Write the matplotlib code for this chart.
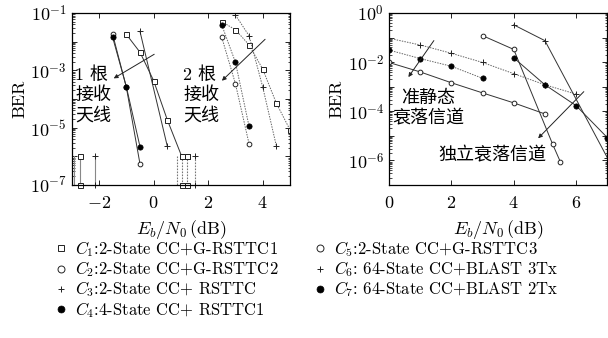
import matplotlib
matplotlib.use('Agg')
import matplotlib.pyplot as plt
from matplotlib.lines import Line2D
from matplotlib.ticker import LogLocator, NullFormatter
import numpy as np

plt.rcParams['font.family'] = ['cmr10', 'Noto Sans CJK SC']
plt.rcParams['mathtext.fontset'] = 'cm'
plt.rcParams['axes.formatter.use_mathtext'] = True
plt.rcParams['axes.unicode_minus'] = True

# ---- left panel: 1 / 2 receive antennas ----
c1_1rx_x = [-1, -0.5, 0, 0.5, 1.03, 1.21]
c1_1rx_y = [1.8e-2, 4.3e-3, 4.4e-4, 1.9e-5, 1e-6, 1e-6]
c2_1rx_x = [-1.5, -1, -0.5]
c2_1rx_y = [1.8e-2, 2.6e-4, 5.5e-7]
c3_1rx_x = [-0.5, 0.5]
c3_1rx_y = [2.3e-2, 2.3e-6]
c4_1rx_x = [-1.5, -1, -0.5]
c4_1rx_y = [1.4e-2, 2.7e-4, 2.2e-6]

c1_2rx_x = [2.5, 3, 3.5, 4, 4.5, 5]
c1_2rx_y = [5e-2, 2.6e-2, 7.7e-3, 1.1e-3, 7.1e-5, 8.4e-6]
c2_2rx_x = [2.5, 3, 3.5]
c2_2rx_y = [1.4e-2, 3.4e-4, 2.7e-6]
c3_2rx_x = [3, 3.5, 4, 4.5]
c3_2rx_y = [8.5e-2, 1.6e-2, 2.6e-4, 2.3e-6]
c4_2rx_x = [2.5, 3, 3.5]
c4_2rx_y = [3.8e-2, 1.9e-3, 1.1e-5]

# points where BER dropped to zero (drawn as drops to the floor)
drop_solid_x = [-2.93, -2.68, -2.15]
drop_solid_m = ['', 's', '+']
drop_dot_x = [0.87, 1.03, 1.21, 1.5]
drop_dot_m = ['', 's', 's', '+']
drop_top = 1e-6

# ---- right panel: quasi-static / independent fading ----
c5_qs_x = [0, 1, 2, 3, 4, 5]
c5_qs_y = [9.7e-3, 4e-3, 1.45e-3, 5.6e-4, 2.2e-4, 7.8e-5]
c6_qs_x = [0, 1, 2, 3, 4, 5, 6]
c6_qs_y = [9.4e-2, 5e-2, 2.3e-2, 9.7e-3, 3.4e-3, 1.2e-3, 5e-4]
c7_qs_x = [0, 1, 2, 3]
c7_qs_y = [3.1e-2, 1.4e-2, 6.8e-3, 2.2e-3]

c5_if_x = [3, 4, 5.25, 5.5]
c5_if_y = [1.2e-1, 3.3e-2, 4.5e-6, 8.5e-7]
c6_if_x = [4, 5, 7]
c6_if_y = [3.3e-1, 7.5e-2, 1.3e-6]
c7_if_x = [4, 5, 6, 7]
c7_if_y = [1.5e-2, 1.2e-3, 1.7e-4, 8.5e-6]

legend_labels = [r'$C_1$:2-State CC+G-RSTTC1',
                 r'$C_2$:2-State CC+G-RSTTC2',
                 r'$C_3$:2-State CC+ RSTTC',
                 r'$C_4$:4-State CC+ RSTTC1',
                 r'$C_5$:2-State CC+G-RSTTC3',
                 r'$C_6$: 64-State CC+BLAST 3Tx',
                 r'$C_7$: 64-State CC+BLAST 2Tx']

SOLID = '#333333'
DOTC = '#666666'
mk = {'s': dict(marker='s', ms=3.6, mfc='white', mec='#222222', mew=0.7),
      'o': dict(marker='o', ms=3.4, mfc='white', mec='#222222', mew=0.7),
      '+': dict(marker='+', ms=4.5, mec='#222222', mew=0.7),
      'f': dict(marker='o', ms=3.8, mfc='black', mec='black', mew=0.5)}

fig = plt.figure(figsize=(6.08, 3.38), dpi=100)
ax1 = fig.add_axes([0.118, 0.4527, 0.359, 0.5088])
ax2 = fig.add_axes([0.6398, 0.4527, 0.359, 0.5088])

def line(ax, x, y, m, ls='-', c=SOLID):
    ax.plot(x, y, ls=ls, color=c, lw=0.7, **mk[m])

DOT = (0, (1.5, 1.2))
line(ax1, c1_1rx_x, c1_1rx_y, 's')
line(ax1, c2_1rx_x, c2_1rx_y, 'o')
line(ax1, c3_1rx_x, c3_1rx_y, '+')
line(ax1, c4_1rx_x, c4_1rx_y, 'f')
line(ax1, c1_2rx_x, c1_2rx_y, 's', DOT, DOTC)
line(ax1, c2_2rx_x, c2_2rx_y, 'o', DOT, DOTC)
line(ax1, c3_2rx_x, c3_2rx_y, '+', DOT, DOTC)
line(ax1, c4_2rx_x, c4_2rx_y, 'f', DOT, DOTC)

for x, m in zip(drop_solid_x, drop_solid_m):
    ax1.plot([x, x], [drop_top, 1e-7], color='#888888', lw=0.8, clip_on=False,
             **(mk[m] if m else {}))
for x, m in zip(drop_dot_x, drop_dot_m):
    ax1.plot([x, x], [drop_top, 1e-7], color='#777777', lw=0.8, ls=DOT, clip_on=False,
             **(mk[m] if m else {}))

line(ax2, c5_qs_x, c5_qs_y, 'o')
line(ax2, c6_qs_x, c6_qs_y, '+', DOT, DOTC)
line(ax2, c7_qs_x, c7_qs_y, 'f', DOT, DOTC)
line(ax2, c5_if_x, c5_if_y, 'o')
line(ax2, c6_if_x, c6_if_y, '+')
line(ax2, c7_if_x, c7_if_y, 'f')

arrow = dict(arrowstyle='-|>', color='#222222', lw=0.7, mutation_scale=6)
ax1.annotate('', xy=(-1.55, 10**-3.33), xytext=(0.11, 10**-2.39), arrowprops=arrow)
ax1.annotate('', xy=(2.43, 10**-3.43), xytext=(4.16, 10**-1.85), arrowprops=arrow)
ax2.annotate('', xy=(0.57, 10**-2.7), xytext=(1.49, 10**-1.03), arrowprops=arrow)
ax2.annotate('', xy=(4.72, 10**-5.18), xytext=(6.31, 10**-3.12), arrowprops=arrow)

cjk = ['cmr10', 'Noto Sans CJK SC']
ax1.text(-2.88, 10**-2.85, '1 根\n接收\n天线', fontsize=13, va='top', ha='left',
         linespacing=1.25, family=cjk)
ax1.text(1.09, 10**-2.85, '2 根\n接收\n天线', fontsize=13, va='top', ha='left',
         linespacing=1.25, family=cjk)
ax2.text(1.27, 10**-3.12, '准静态\n衰落信道', fontsize=13, va='top', ha='center',
         multialignment='center', linespacing=1.25, family=cjk)
ax2.text(3.33, 10**-5.78, '独立衰落信道', fontsize=13, va='center', ha='center', family=cjk)

for ax, xlim, ylim, xt, ydec in [(ax1, (-3, 5), (1e-7, 1e-1), [-2, 0, 2, 4], range(-7, 0)),
                                 (ax2, (0, 7), (1e-7, 1), [0, 2, 4, 6], range(-7, 1))]:
    ax.set_yscale('log')
    ax.set_xlim(*xlim)
    ax.set_ylim(*ylim)
    ax.set_xticks(xt)
    ax.set_xticklabels([r'$%d$' % v if v >= 0 else r'$-%d$' % -v for v in xt])
    yt = [10.0 ** d for d in ydec]
    ax.set_yticks(yt)
    top = max(ydec)
    ax.set_yticklabels([r'$10^{%d}$' % d if (top - d) % 2 == 0 else '' for d in ydec])
    ax.yaxis.set_minor_locator(LogLocator(base=10, subs=np.arange(2, 10), numticks=20))
    ax.yaxis.set_minor_formatter(NullFormatter())
    ax.tick_params(which='both', direction='in', top=True, right=True, labelsize=13)
    ax.tick_params(which='major', length=3.5, width=0.6)
    ax.tick_params(which='minor', length=1.8, width=0.5)
    ax.tick_params(axis='x', pad=7)
    ax.set_ylabel('BER', fontsize=13, labelpad=2)
    ax.set_xlabel(r'$E_b/N_0\,$(dB)', fontsize=13, labelpad=5)
    for s in ax.spines.values():
        s.set_linewidth(0.9)

handles = [Line2D([], [], ls='none', **dict(mk[k], ms=5)) for k in ['s', 'o', '+', 'f', 'o', '+', 'f']]
leg_kw = dict(frameon=False, loc='upper left', fontsize=12, handlelength=0.8,
              handletextpad=0.45, labelspacing=0.02, borderpad=0, borderaxespad=0)
fig.legend(handles[:4], legend_labels[:4], bbox_to_anchor=(0.0893, 0.292), **leg_kw)
fig.legend(handles[4:], legend_labels[4:], bbox_to_anchor=(0.5153, 0.292), **leg_kw)

fig.savefig('out.png', dpi=100)
